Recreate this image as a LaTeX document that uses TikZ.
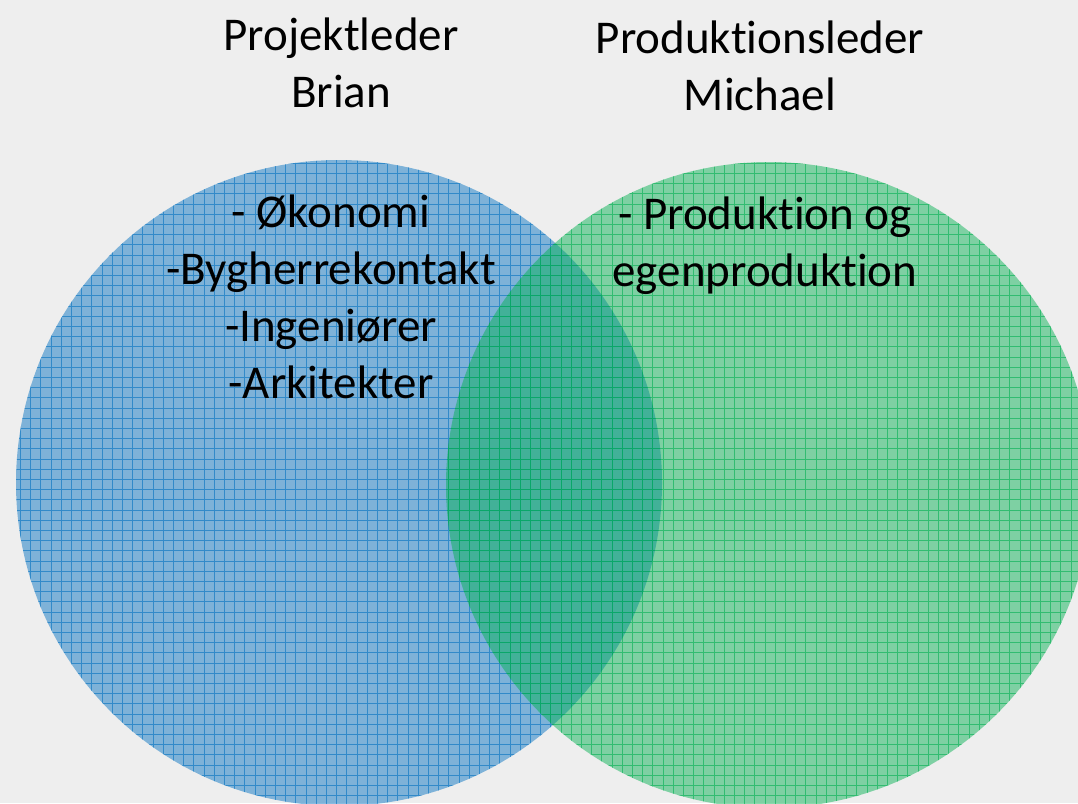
\documentclass[tikz,border=0pt]{standalone}
\usepackage{fontspec}
\setmainfont{Carlito}[Ligatures={NoCommon,NoRare,NoContextual}, RawFeature=-calt]
\usetikzlibrary{positioning}

\definecolor{paper}{HTML}{EEEEEE}
\definecolor{leaderblue}{HTML}{0070C0}
\definecolor{leadergreen}{HTML}{00B050}

\tikzset{
  label text/.style={align=center, inner sep=0pt, text=black,
    font=\fontsize{47}{57}\selectfont},
  disc/.style={fill=#1, fill opacity=0.47},
  disc grid/.style={draw=#1, draw opacity=0.6, line width=1pt, step=10.2pt}
}

\begin{document}
\begin{tikzpicture}[x=1pt,y=-1pt]
  \fill[paper] (0,0) rectangle (1078,803);
  \useasboundingbox (0,0) rectangle (1078,803);
  \coordinate (cb) at (339,483);
  \coordinate (cg) at (769,485);
  \begin{scope}
    \clip (0,0) rectangle (1078,803);
    % blue circle
    \fill[disc=leaderblue] (cb) circle (323);
    \begin{scope}
      \clip (cb) circle (323);
      \draw[disc grid=leaderblue] (10,150) grid (670,810);
    \end{scope}
    % green circle
    \fill[disc=leadergreen] (cg) circle (323);
    \begin{scope}
      \clip (cg) circle (323);
      \draw[disc grid=leadergreen] (440,150) grid (1100,810);
    \end{scope}
  \end{scope}
  % labels
  \node[label text] (brian) at (341,63) {Projektleder\\Brian};
  \node[label text] (michael) at (760,66) {Produktionsleder\\Michael};
  \node[label text] (brian tasks) at (331,297) {- Økonomi\\-Bygherrekontakt\\-Ingeniører\\-Arkitekter};
  \node[label text] (michael tasks) at (765,246) {- Produktion og\\egenproduktion};
\end{tikzpicture}
\end{document}
